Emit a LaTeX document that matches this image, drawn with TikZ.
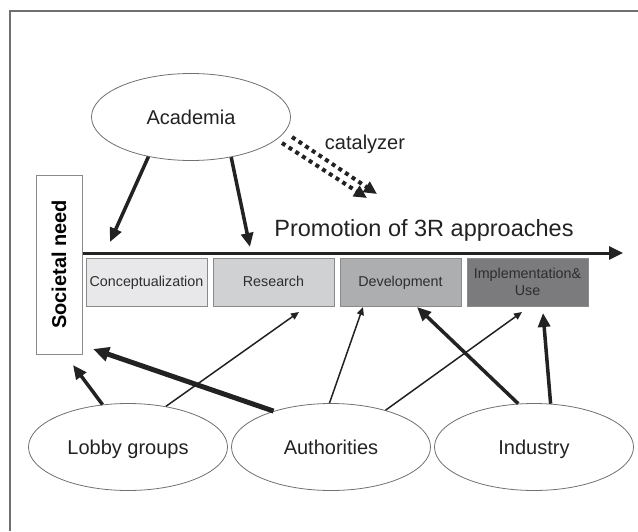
\documentclass[tikz,border=0pt]{standalone}
\usepackage{fontspec}
\setmainfont{Liberation Sans}
\usetikzlibrary{positioning, shapes.geometric, arrows.meta, calc}

\definecolor{edge}{HTML}{707070}
\definecolor{boxline}{HTML}{8A8A8A}
\definecolor{ink}{HTML}{222222}
\definecolor{stageA}{HTML}{E8E8EA}
\definecolor{stageB}{HTML}{D0D1D3}
\definecolor{stageC}{HTML}{ADAEB0}
\definecolor{stageD}{HTML}{7B7B7D}

\begin{document}
\begin{tikzpicture}[
    x=1pt,y=-1pt,
    bubble/.style={ellipse, draw=edge, line width=0.8pt, minimum width=199pt,
      minimum height=87pt, inner sep=0pt, text=ink, text height=14.5pt, text depth=0pt,
      font=\fontsize{20pt}{24pt}\selectfont},
    stage/.style={rectangle, draw=boxline, line width=1pt, minimum width=121pt,
      minimum height=48pt, inner sep=1pt, text=ink!95!white, align=center,
      font=\fontsize{14.3pt}{17pt}\selectfont},
    thinflow/.style={line width=1.5pt, ink, -{Triangle[length=8pt,width=7pt]}},
    flow/.style={line width=3.5pt, ink, -{Triangle[length=14pt,width=12pt]}},
    thickflow/.style={line width=5pt, ink, -{Triangle[length=16pt,width=14pt]}},
    dotflow/.style={line width=4pt, ink, dash pattern=on 4pt off 4pt,
      -{Triangle[length=13pt,width=12pt]}}
    ]
    \useasboundingbox (0, 0) rectangle (638, 531);
    % frame
    \draw[edge, line width=1.5pt] (10, 531) -- (10, 11) -- (638, 11);

    % actors
    \node[bubble] (academia) at (191, 117) {Academia};
    \node[bubble] (lobby) at (128, 447) {Lobby groups};
    \node[bubble] (auth) at (331, 447) {Authorities};
    \node[bubble] (industry) at (534, 447) {Industry};

    % societal need
    \node[draw=boxline, line width=1pt, rotate=90, minimum width=179pt,
      minimum height=46pt, inner sep=0pt, font=\fontsize{20pt}{24pt}\selectfont\bfseries]
      (societal) at (59, 264.5) {Societal need};

    % stages
    \node[stage, fill=stageA, text height=10.5pt, text depth=1pt] (concept) at (146.5, 282) {Conceptualization};
    \node[stage, fill=stageB, text height=10.5pt, text depth=1pt, right=5pt of concept] (research) {Research};
    \node[stage, fill=stageC, text height=10.5pt, text depth=1pt, right=5pt of research] (develop) {Development};
    \node[stage, fill=stageD, right=5pt of develop] (implement) {Implementation\&\\Use};

    % promotion axis
    \coordinate (promoEnd) at (623, 253);
    \draw[line width=3pt, ink, -{Triangle[length=14pt,width=13pt]}]
      (societal.south |- promoEnd) -- (promoEnd);
    \node[text=ink, font=\fontsize{23.5pt}{28pt}\selectfont] (promo) at (424, 230)
      {Promotion of 3R approaches};

    % catalyzer
    \node[text=ink, font=\fontsize{20pt}{24pt}\selectfont] (catalyzer) at (365, 144) {catalyzer};
    \coordinate (catA1) at (292, 137);
    \coordinate (catA2) at (377, 194);
    \coordinate (catB1) at (282, 143);
    \coordinate (catB2) at (367, 198);
    \draw[dotflow] (catA1) -- (catA2);
    \draw[dotflow] (catB1) -- (catB2);

    % arrow ends
    \coordinate (tipConcept) at (110, 242);
    \coordinate (tipResearch) at (250, 247);
    \coordinate (tipSocA) at (73, 365);
    \coordinate (tipSocB) at (93, 349);
    \coordinate (tipResLow) at (299, 312);
    \coordinate (tipDevA) at (363, 307);
    \coordinate (tipDevB) at (417, 307);
    \coordinate (tipImpA) at (522, 312);
    \coordinate (tipImpB) at (543, 313);

    % influences
    \draw[flow] (academia.223) -- (tipConcept);
    \draw[flow] (academia.315) -- (tipResearch);
    \draw[flow] (lobby.121) -- (tipSocA);
    \draw[thinflow] (lobby.47) -- (tipResLow);
    \draw[thickflow] (auth.148) -- (tipSocB);
    \draw[thinflow] (auth.92) -- (tipDevA);
    \draw[thinflow] (auth.34) -- (tipImpA);
    \draw[flow] (industry.110) -- (tipDevB);
    \draw[flow] (industry.69) -- (tipImpB);
  \end{tikzpicture}
\end{document}
